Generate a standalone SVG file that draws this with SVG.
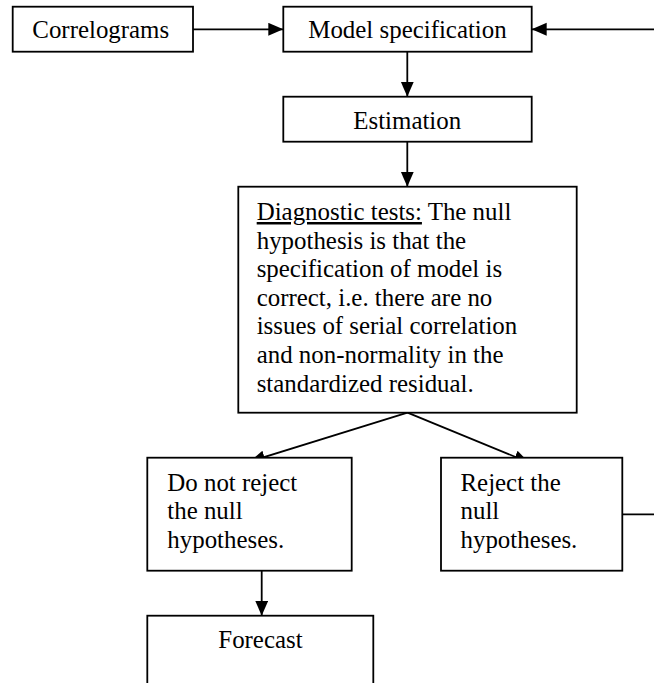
<svg xmlns="http://www.w3.org/2000/svg" width="654" height="683" viewBox="0 0 654 683">
<defs>
<style>
.box{fill:#fff;stroke:#000;stroke-width:1.8}
.t{font-family:"Liberation Serif","Times New Roman",serif;font-size:24.9px;fill:#000}
.c{fill:none;stroke:#000;stroke-width:1.8}
</style>
<marker id="ah" markerUnits="userSpaceOnUse" markerWidth="16" markerHeight="14" refX="15" refY="6.5" orient="auto">
<path d="M0,0 L15,6.5 L0,13 z" fill="#000"/>
</marker>
</defs>
<rect width="654" height="683" fill="#fff"/>
<g id="connectors">
<line class="c" x1="193" y1="29.3" x2="283.3" y2="29.3" marker-end="url(#ah)"/>
<path class="c" d="M622.3,514.3 H670 V29.3 H531.7" marker-end="url(#ah)"/>
<line class="c" x1="407.3" y1="51.7" x2="407.3" y2="96.7" marker-end="url(#ah)"/>
<line class="c" x1="407.3" y1="141.7" x2="407.3" y2="186.7" marker-end="url(#ah)"/>
<line class="c" x1="407.5" y1="412.7" x2="529" y2="462.5" marker-end="url(#ah)"/>
<line class="c" x1="407.5" y1="412.7" x2="250" y2="461.5" marker-end="url(#ah)"/>
<line class="c" x1="261.7" y1="570.7" x2="261.7" y2="615.7" marker-end="url(#ah)"/>
</g>
<g id="correlograms">
<rect class="box" x="12.7" y="6.7" width="180.3" height="45"/>
<text class="t" x="32.3" y="38.3">Correlograms</text>
</g>
<g id="model-specification">
<rect class="box" x="283.3" y="6.7" width="248.4" height="45"/>
<text class="t" x="308.3" y="37.7">Model specification</text>
</g>
<g id="estimation">
<rect class="box" x="283.3" y="96.7" width="248.4" height="45"/>
<text class="t" x="353.3" y="128.5">Estimation</text>
</g>
<g id="diagnostic-tests">
<rect class="box" x="238.3" y="186.7" width="338.4" height="226"/>
<text class="t"><tspan x="256.7" y="220" text-decoration="underline">Diagnostic tests:</tspan><tspan> The null</tspan><tspan x="256.7" y="248.5">hypothesis is that the</tspan><tspan x="256.7" y="277">specification of model is</tspan><tspan x="256.7" y="305.6">correct, i.e. there are no</tspan><tspan x="256.7" y="334.3">issues of serial correlation</tspan><tspan x="256.7" y="363">and non-normality in the</tspan><tspan x="256.7" y="391.7">standardized residual.</tspan></text>
</g>
<g id="do-not-reject">
<rect class="box" x="147.3" y="457.7" width="204.4" height="113"/>
<text class="t"><tspan x="167.3" y="490.7">Do not reject</tspan><tspan x="167.3" y="519.3">the null</tspan><tspan x="167.3" y="548">hypotheses.</tspan></text>
</g>
<g id="reject">
<rect class="box" x="441" y="457.7" width="181.3" height="113"/>
<text class="t"><tspan x="460.5" y="490.7">Reject the</tspan><tspan x="460.5" y="519.3">null</tspan><tspan x="460.5" y="548">hypotheses.</tspan></text>
</g>
<g id="forecast">
<rect class="box" x="147.3" y="615.7" width="226" height="80"/>
<text class="t" x="218.3" y="647.7">Forecast</text>
</g>
</svg>
